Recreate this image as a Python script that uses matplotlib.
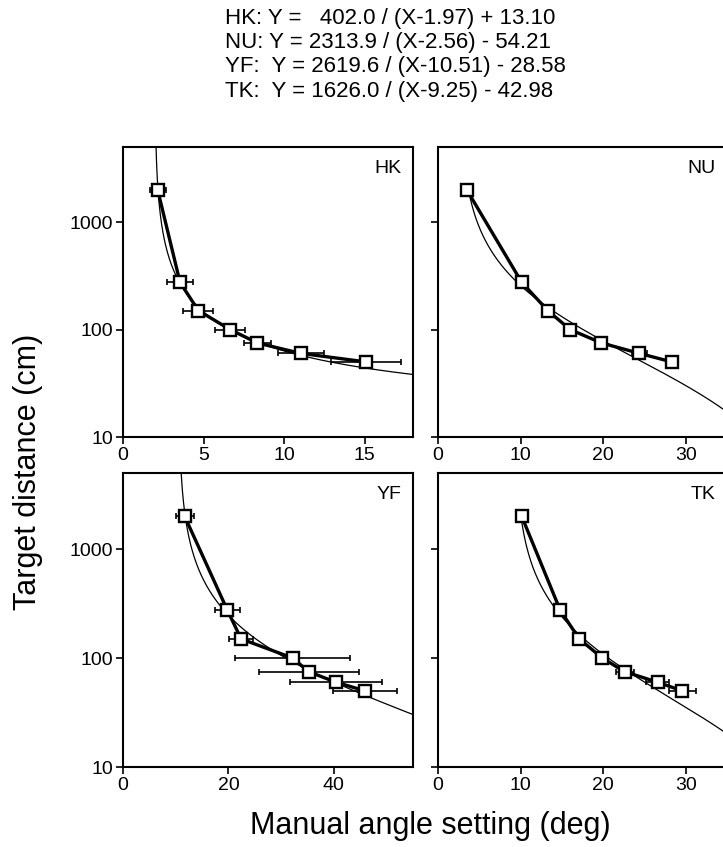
import numpy as np
import matplotlib
matplotlib.use("Agg")
import matplotlib.pyplot as plt
from matplotlib.ticker import FixedLocator, NullLocator

plt.rcParams['font.family'] = ['Liberation Sans', 'DejaVu Sans']

# target distances (cm), same for every subject
distances = [2000, 275, 150, 100, 75, 60, 50]

subjects = ["HK", "NU", "YF", "TK"]

# mean manual angle setting (deg) and horizontal error (deg)
hk_x = [2.15, 3.54, 4.68, 6.65, 8.34, 11.04, 15.09]
hk_err = [0.5, 0.8, 0.93, 0.95, 0.83, 1.45, 2.15]
nu_x = [3.48, 10.14, 13.3, 16.0, 19.8, 24.4, 28.3]
nu_err = [0.3, 0.3, 0.3, 0.4, 0.5, 0.9, 0.7]
yf_x = [11.7, 19.8, 22.4, 32.2, 35.2, 40.4, 45.9]
yf_err = [1.7, 2.3, 2.3, 10.9, 9.5, 8.7, 6.1]
tk_x = [10.14, 14.8, 17.1, 19.9, 22.6, 26.6, 29.6]
tk_err = [0.2, 0.3, 0.4, 0.6, 1.1, 1.4, 1.6]

# hyperbolic fit Y = a / (X - b) + c
fit_a = [402.0, 2313.9, 2619.6, 1626.0]
fit_b = [1.97, 2.56, 10.51, 9.25]
fit_c = [13.10, -54.21, -28.58, -42.98]
# x range over which each fit curve is drawn
fit_start = [2.04, 3.9, 11.03, 10.0]
fit_end = [18, 35, 55, 35]

xlims = [18, 35, 55, 35]
xticks = [[0, 5, 10, 15], [0, 10, 20, 30], [0, 20, 40], [0, 10, 20, 30]]

xs = [hk_x, nu_x, yf_x, tk_x]
errs = [hk_err, nu_err, yf_err, tk_err]

W, H = 723, 847
fig = plt.figure(figsize=(W / 100, H / 100), dpi=100)

# panel boxes in pixels: left, top, right, bottom
boxes = [(123, 147, 413, 437), (438, 147, 727, 437),
         (123, 473, 413, 767), (438, 473, 727, 767)]

for i, name in enumerate(subjects):
    l, t, r, b = boxes[i]
    ax = fig.add_axes([l / W, 1 - b / H, (r - l) / W, (b - t) / H])
    ax.set_yscale('log')
    ax.set_ylim(10, 5000)
    ax.set_xlim(0, xlims[i])

    xf = np.linspace(fit_start[i], fit_end[i], 400)
    yf = fit_a[i] / (xf - fit_b[i]) + fit_c[i]
    ax.plot(xf, yf, color='black', lw=0.9, zorder=2)

    ax.errorbar(xs[i], distances, xerr=errs[i], fmt='none', ecolor='black',
                elinewidth=1.2, capsize=2, capthick=1.2, zorder=3)
    ax.plot(xs[i], distances, color='black', lw=2.4, marker='s', ms=9,
            mfc='white', mec='black', mew=1.7, zorder=4)

    ax.yaxis.set_major_locator(FixedLocator([10, 100, 1000]))
    ax.yaxis.set_minor_locator(NullLocator())
    ax.set_xticks(xticks[i])
    if i % 2 == 0:
        ax.set_yticklabels(["10", "100", "1000"])
    else:
        ax.set_yticklabels([])
    ax.tick_params(direction='out', length=5, width=1.2, labelsize=14, pad=2)
    for sp in ax.spines.values():
        sp.set_linewidth(1.5)

    ax.text(0.96, 0.955, name, transform=ax.transAxes, ha='right', va='top',
            fontsize=14)

title = ("HK: Y =   402.0 / (X-1.97) + 13.10\n"
         "NU: Y = 2313.9 / (X-2.56) - 54.21\n"
         "YF:  Y = 2619.6 / (X-10.51) - 28.58\n"
         "TK:  Y = 1626.0 / (X-9.25) - 42.98")
fig.text(395 / W, 1 - 8 / H, title, ha='center', va='top', ma='left',
         fontsize=16, linespacing=1.2)

fig.text(28 / W, 1 - 472 / H, "Target distance (cm)", rotation=90,
         ha='center', va='center', fontsize=22)
fig.text(430 / W, 1 - 826 / H, "Manual angle setting (deg)",
         ha='center', va='center', fontsize=22)

fig.savefig("out.png", dpi=100)
